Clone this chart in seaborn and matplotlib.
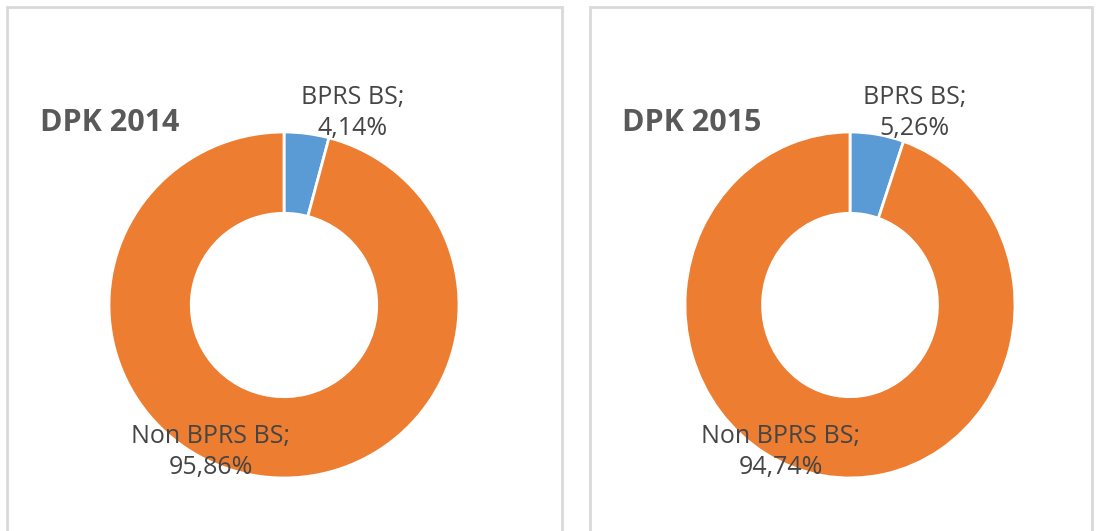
import matplotlib
matplotlib.use("Agg")
import matplotlib.pyplot as plt
import seaborn as sns
from matplotlib.patches import Rectangle

# data
titles = ["DPK 2014", "DPK 2015"]
categories = ["BPRS BS", "Non BPRS BS"]
shares_2014 = [4.14, 95.86]
shares_2015 = [5.26, 94.74]
colors = ["#5B9BD5", "#ED7D31"]

sns.set_theme(style="white")
plt.rcParams["font.family"] = ["Open Sans", "DejaVu Sans"]
title_color = "#595959"
label_color = "#454545"

W, H = 1096, 531
fig = plt.figure(figsize=(W / 100, H / 100), dpi=100)
fig.patch.set_facecolor("white")

# panel frames (pixel coords, top-left origin)
for x0, x1 in [(7, 562), (590, 1092)]:
    fig.patches.append(Rectangle((x0 / W, -0.05), (x1 - x0) / W, (H - 7) / H + 0.05,
                                 transform=fig.transFigure, fill=False,
                                 edgecolor="#d9d9d9", linewidth=2))

lim = 1.25
centers = [(284, 305), (850, 305)]
radii = [(175, 173), (165, 173)]  # (x radius, y radius) in pixels
title_x = [40, 622]
label_pos = [(0.39, 1.11), (-0.42, -0.85)]

for i, shares in enumerate([shares_2014, shares_2015]):
    cx, cy = centers[i]
    rx, ry = radii[i]
    wx, wy = 2 * rx * lim, 2 * ry * lim
    ax = fig.add_axes([(cx - wx / 2) / W, (H - cy - wy / 2) / H, wx / W, wy / H])
    ax.pie(shares, colors=colors, startangle=90, counterclock=False, radius=1,
           wedgeprops=dict(width=0.47, edgecolor="white", linewidth=2))
    ax.set_xlim(-lim, lim)
    ax.set_ylim(-lim, lim)
    ax.set_aspect("auto")
    ax.axis("off")
    for j, cat in enumerate(categories):
        val = f"{shares[j]:.2f}".replace(".", ",") + "%"
        ax.text(label_pos[j][0], label_pos[j][1], f"{cat};\n{val}", ha="center", va="center",
                fontsize=18, color=label_color, linespacing=1.32)
    fig.text(title_x[i] / W, 1 - 123 / H, titles[i], ha="left", va="center",
             fontsize=22, fontweight="bold", color=title_color)

fig.savefig("out.png", dpi=100, facecolor="white")
